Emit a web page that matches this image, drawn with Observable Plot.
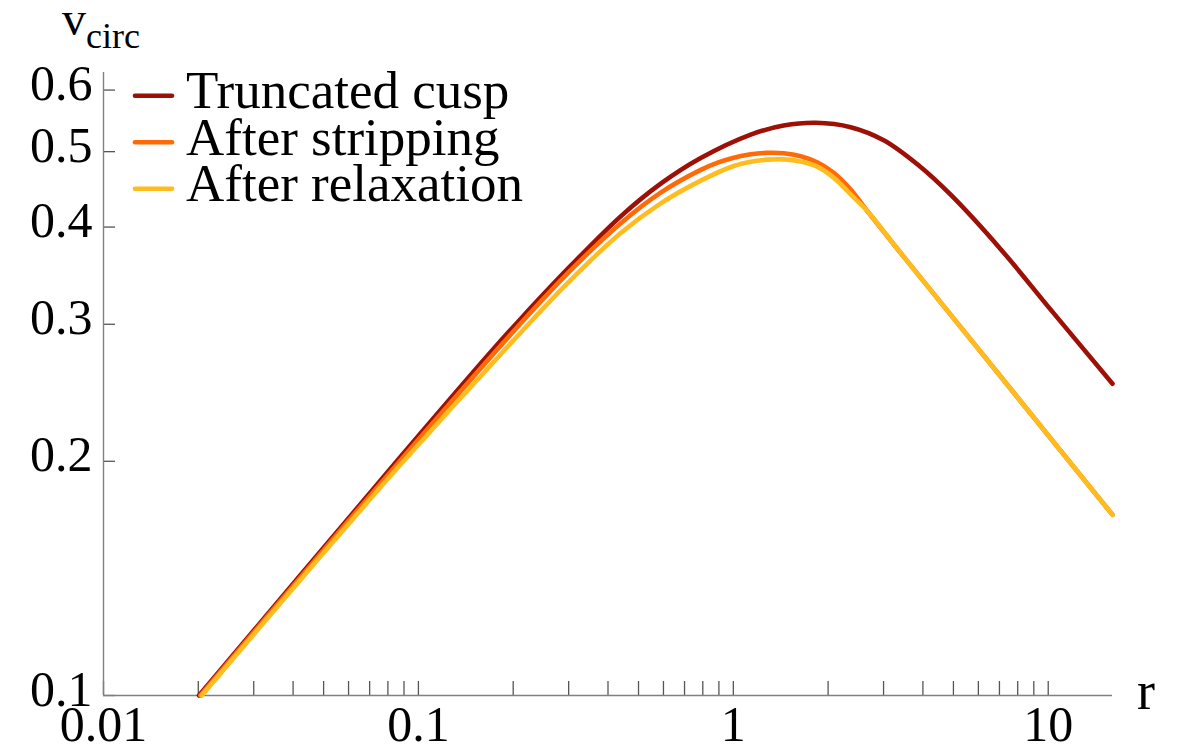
<!DOCTYPE html>
<html>
<head>
<meta charset="utf-8">
<script src="https://cdn.jsdelivr.net/npm/d3@7"></script>
<script src="https://cdn.jsdelivr.net/npm/@observablehq/plot@0.6"></script>
<style>
  html, body { margin: 0; padding: 0; background: #fff; }
  #chart { width: 1181px; height: 748px; }
</style>
</head>
<body>
<div id="chart"></div>
<script>
// Circular velocity profiles of a truncated cusp, before and after tidal stripping
const seriesNames = ["Truncated cusp", "After stripping", "After relaxation"];
const seriesColors = ["#9c1006", "#ff6a06", "#ffbc1e"];

const rCusp = [0.0201, 0.0439, 0.0879, 0.1697, 0.2114, 0.3047, 0.439, 0.5882, 0.788, 1.136, 1.445, 1.827, 2.359, 3.003, 3.849, 4.899, 7.063, 10.18, 16.0];
const vCusp = [0.1000, 0.1455, 0.2028, 0.2763, 0.3050, 0.3568, 0.4129, 0.4548, 0.4907, 0.5260, 0.5401, 0.5446, 0.5376, 0.5172, 0.4813, 0.4402, 0.3747, 0.3133, 0.2516];

const rStripped = [0.0203, 0.0439, 0.0879, 0.2114, 0.3047, 0.439, 0.5882, 0.788, 0.892, 1.003, 1.136, 1.286, 1.445, 1.637, 1.853, 2.083, 2.359, 2.671, 3.40, 4.554, 7.063, 16.0];
const vStripped = [0.1000, 0.1446, 0.2008, 0.3009, 0.3521, 0.4046, 0.4430, 0.4738, 0.4840, 0.4912, 0.4961, 0.4983, 0.4977, 0.4933, 0.4842, 0.4696, 0.4469, 0.4189, 0.3704, 0.3201, 0.2570, 0.1707];

const rRelaxed = [0.0205, 0.0439, 0.0879, 0.2114, 0.3047, 0.439, 0.5882, 0.788, 1.003, 1.136, 1.286, 1.445, 1.637, 1.853, 2.083, 2.359, 2.671, 3.40, 4.554, 7.063, 16.0];
const vRelaxed = [0.1000, 0.1435, 0.1982, 0.2928, 0.3421, 0.3930, 0.4290, 0.4589, 0.4793, 0.4853, 0.4883, 0.4887, 0.4857, 0.4779, 0.4630, 0.4406, 0.4189, 0.3704, 0.3201, 0.2570, 0.1707];

const xDomain = [0.01, 16.0];
const yDomain = [0.1, 0.632];
const xLabelTicks = [0.01, 0.1, 1, 10];
const xTickMarks = [
  0.01, 0.02, 0.03, 0.04, 0.05, 0.06, 0.07, 0.08, 0.09,
  0.1, 0.2, 0.3, 0.4, 0.5, 0.6, 0.7, 0.8, 0.9,
  1, 2, 3, 4, 5, 6, 7, 8, 9, 10
];
const yTicks = [0.1, 0.2, 0.3, 0.4, 0.5, 0.6];

const rows = [
  ...rCusp.map((r, i) => ({series: seriesNames[0], r, v: vCusp[i]})),
  ...rStripped.map((r, i) => ({series: seriesNames[1], r, v: vStripped[i]})),
  ...rRelaxed.map((r, i) => ({series: seriesNames[2], r, v: vRelaxed[i]}))
];

const W = 1181, H = 748;
const mL = 103, mR = 69, mT = 72, mB = 53;
const frameW = W - mL - mR, frameH = H - mT - mB;
const font = "'Liberation Serif', 'Times New Roman', serif";

const chart = Plot.plot({
  width: W,
  height: H,
  marginLeft: mL, marginRight: mR, marginTop: mT, marginBottom: mB,
  style: {fontFamily: font, fontSize: "50px", color: "#000", background: "#fff", overflow: "visible"},
  x: {type: "log", domain: xDomain},
  y: {type: "log", domain: yDomain},
  color: {domain: seriesNames, range: seriesColors},
  marks: [
    // inward tick marks
    Plot.ruleX(xTickMarks, {x: d => d, stroke: "#555", strokeWidth: 1.3, insetTop: frameH - 14}),
    Plot.ruleY(yTicks, {y: d => d, stroke: "#555", strokeWidth: 1.3, insetRight: frameW - 12}),
    // axis lines
    Plot.ruleX([xDomain[0]], {stroke: "#808080", strokeWidth: 1.4}),
    Plot.ruleY([yDomain[0]], {stroke: "#808080", strokeWidth: 1.4}),
    Plot.axisX(xLabelTicks, {tickSize: 0, tickPadding: 10, tickFormat: d => String(d), label: null, fontSize: 50}),
    Plot.axisY(yTicks, {tickSize: 0, tickPadding: 11, dy: -6, tickFormat: d => String(d), label: null, fontSize: 50}),
    Plot.line(rows, {
      x: "r", y: "v", z: "series", stroke: "series",
      strokeWidth: 4.6, curve: "catmull-rom", strokeLinecap: "round"
    })
  ]
});

document.getElementById("chart").appendChild(chart);

// Axis titles and legend drawn into the same SVG
const svg = d3.select(chart);
const ann = svg.append("g")
  .attr("font-family", font)
  .attr("fill", "#000")
  .attr("text-anchor", "start");

const vLabel = ann.append("text").attr("x", 62).attr("y", 35).attr("font-size", 48);
vLabel.append("tspan").text("v");
vLabel.append("tspan").attr("font-size", 36).attr("dy", 13).text("circ");

ann.append("text").attr("x", 1137).attr("y", 709).attr("font-size", 54).text("r");

const legendBaselines = [108, 154.5, 201];
seriesNames.forEach((name, i) => {
  const b = legendBaselines[i];
  ann.append("line")
    .attr("x1", 135).attr("x2", 172)
    .attr("y1", b - 12.3).attr("y2", b - 12.3)
    .attr("stroke", seriesColors[i]).attr("stroke-width", 4.6)
    .attr("stroke-linecap", "round");
  ann.append("text").attr("x", 186).attr("y", b).attr("font-size", 53).text(name);
});
</script>
</body>
</html>
